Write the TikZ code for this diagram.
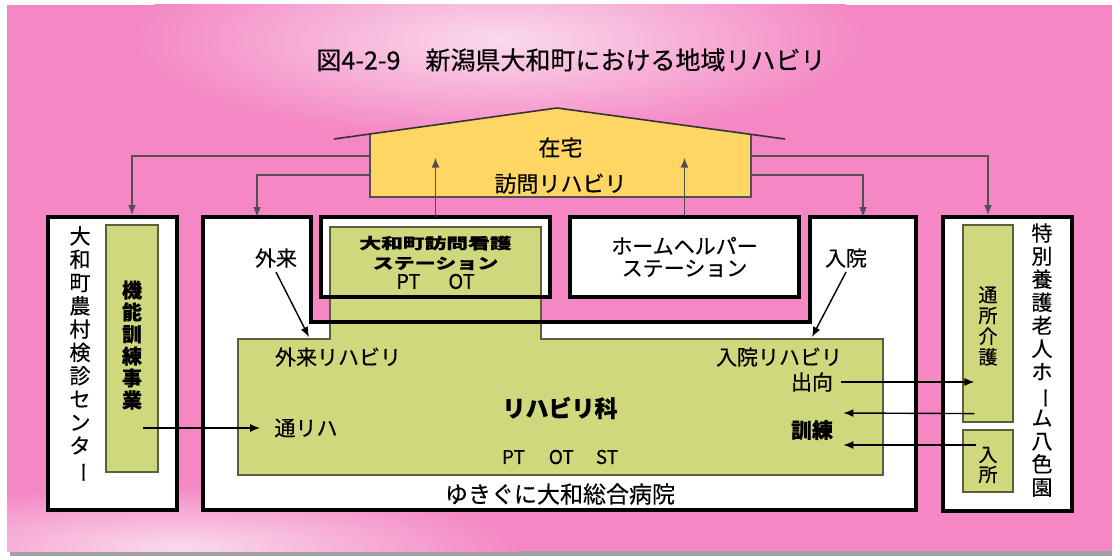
\documentclass[tikz,border=0pt]{standalone}
\usepackage{fontspec}
\setmainfont{Noto Sans CJK JP}[FakeBold=0.4]
\usepackage{graphicx}
\usetikzlibrary{positioning,arrows.meta,calc}

\definecolor{bgpink}{RGB}{244,135,196}
\definecolor{bglight}{RGB}{250,218,236}
\definecolor{rehagreen}{RGB}{208,216,126}
\definecolor{greenline}{RGB}{90,95,60}
\definecolor{houseyellow}{RGB}{255,214,100}
\definecolor{linkgray}{RGB}{80,80,80}
\definecolor{shadowgray}{RGB}{160,160,160}

\newcommand{\vbarjp}{\rotatebox[origin=c]{-90}{ー}}

\begin{document}
\begin{tikzpicture}[
  x=0.5pt, y=-0.5pt,
  thickbox/.style={
    rectangle, draw=black, line width=2pt, fill=white, inner sep=0
  },
  greenbox/.style={
    rectangle, draw=greenline, line width=0.6pt, fill=rehagreen, inner sep=0
  },
  link/.style={-{Latex[length=5pt,width=4pt]}, draw=linkgray, line width=0.85pt},
  flow/.style={-{Latex[length=5pt,width=4pt]}, draw=black, line width=0.7pt},
  txt/.style={inner sep=0, font=\fontsize{10.5}{12}\selectfont},
  vtxt/.style={inner sep=0, align=center}
]

% === Background ===
\useasboundingbox (0,0) rectangle (1112,556);
\fill[white] (0,0) rectangle (1112,556);
\fill[shadowgray] (10,549) rectangle (1112,556);
\begin{scope}
  \clip (7,5) rectangle (1112,551);
  \fill[bgpink] (7,5) rectangle (1112,551);
  \shade[inner color=bglight, outer color=bgpink] (500,40) ellipse (185pt and 50pt);
  \shade[inner color=bglight, outer color=bgpink] (180,548) ellipse (170pt and 32pt);
\end{scope}

% === Title ===
\node[inner sep=0, font=\fontsize{12.5}{14}\selectfont] (title) at (571,60)
  {図4-2-9　新潟県大和町における地域リハビリ};

% === House (home) ===
\fill[houseyellow] (370,197) -- (370,134) -- (557,108) -- (751,134) -- (751,197) -- cycle;
\draw[linkgray, line width=0.7pt] (370,134) -- (370,197) -- (751,197) -- (751,134);
\draw[black!80, line width=0.8pt] (334,139) -- (557,108) -- (785,139);
\node[inner sep=0, minimum width=190.5pt, minimum height=31.5pt, align=center,
  font=\fontsize{11}{18}\selectfont] (house) at (560.5,165.5) {在宅\\訪問リハビリ};

% === Health check centre ===
\node[thickbox, minimum width=64.5pt, minimum height=146.5pt] (kenshin) at (112.5,363.5) {};
\node[greenbox, minimum width=26pt, minimum height=123.5pt] (kinou) at (132,348.5) {};
\node[vtxt, font=\fontsize{10.5}{11.65}\selectfont] (kenshintxt) at (80,354.5)
  {大\\和\\町\\農\\村\\検\\診\\セ\\ン\\タ\\\vbarjp};
\node[vtxt, font=\bfseries\fontsize{10}{11}\selectfont] (kinoutxt) at (132,345)
  {機\\能\\訓\\練\\事\\業};

% === Hospital outline ===
\coordinate (hA) at (203,217);
\coordinate (hB) at (311,217);
\coordinate (hC) at (311,322);
\coordinate (hD) at (810,322);
\coordinate (hE) at (810,217);
\coordinate (hF) at (916,217);
\coordinate (hG) at (916,510);
\coordinate (hH) at (203,510);
\fill[white] (hA) -- (hB) -- (hC) -- (hD) -- (hE) -- (hF) -- (hG) -- (hH) -- cycle;
\node[rectangle, fill=white, inner sep=0, minimum width=114.5pt, minimum height=40pt]
  (nurse) at (435.5,257) {};

% === Rehabilitation department (green) ===
\filldraw[fill=rehagreen, draw=greenline, line width=0.6pt]
  (238,475) -- (238,339) -- (330,339) -- (330,227) -- (541,227)
  -- (541,339) -- (883,339) -- (883,475) -- cycle;
\draw[line width=2pt] (hA) -- (hB) -- (hC) -- (hD) -- (hE) -- (hF) -- (hG) -- (hH) -- cycle;
\draw[line width=2pt] (nurse.south west) rectangle (nurse.north east);
\node[vtxt, font=\fontsize{10}{10}\selectfont] (nursetxt) at (435.5,262.5)
  {\scalebox{1.45}[1]{\bfseries\fontsize{7.5}{9}\selectfont 大和町訪問看護}\\
   \scalebox{1.4}[1]{\bfseries\fontsize{7.5}{9}\selectfont ステーション}\\
   PT\hspace{14pt}OT};

% === Home helper station ===
\node[thickbox, minimum width=114.5pt, minimum height=40pt, align=center,
  font=\fontsize{10.5}{11}\selectfont] (helper) at (684.5,257) {ホームヘルパー\\ステーション};

% === Hospital labels ===
\node[txt] (gairai) at (276,258) {外来};
\node[txt] (nyuin) at (846,258) {入院};
\node[txt] (gairaireha) at (338,357) {外来リハビリ};
\node[txt] (nyuinreha) at (779,357) {入院リハビリ};
\node[txt] (shukko) at (812,382) {出向};
\node[txt, font=\bfseries\fontsize{10.5}{12}\selectfont] (kunren) at (812,430) {訓練};
\node[txt, font=\bfseries\fontsize{11.5}{13}\selectfont] (rehaka) at (560,408) {リハビリ科};
\node[txt, font=\fontsize{9.5}{11}\selectfont] (staff) at (560,457) {PT\hspace{12pt}OT\hspace{11pt}ST};
\node[txt] (tsuriha) at (306,428) {通リハ};
\node[txt, font=\fontsize{11.5}{13}\selectfont] (hospname) at (560,494) {ゆきぐに大和総合病院};

% === Nursing home ===
\node[thickbox, minimum width=64.5pt, minimum height=147pt] (hall) at (1007.5,364) {};
\node[greenbox, minimum width=25pt, minimum height=98.5pt] (tsusho) at (988,323.5) {};
\node[greenbox, minimum width=25pt, minimum height=31pt] (nyusho) at (988,461) {};
\node[vtxt, font=\fontsize{10.5}{11.55}\selectfont] (halltxt) at (1042,360)
  {特\\別\\養\\護\\老\\人\\ホ\\\vbarjp\\ム\\八\\色\\園};
\node[vtxt, font=\fontsize{9.5}{10.35}\selectfont] (tsushotxt) at (988,326) {通\\所\\介\\護};
\node[vtxt, font=\fontsize{9.5}{10}\selectfont] (nyushotxt) at (988,465) {入\\所};

% === Links from home ===
\draw[link] ([yshift=4.75pt]house.west) -| ([xshift=9.75pt]kenshin.north);
\draw[link] ([yshift=-4.75pt]house.west) -| ($(hA)!0.5!(hB)$);
\draw[link] ([yshift=4.75pt]house.east) -| ([xshift=-9.75pt]hall.north);
\draw[link] ([yshift=-4.75pt]house.east) -| ($(hE)!0.5!(hF)$);
\draw[link] (nurse.north) -- ($(nurse.north |- house.center)+(0,-8)$);
\draw[link] (helper.north) -- ($(helper.north |- house.center)+(0,-8)$);

% === Flows in and out of the hospital ===
\coordinate (gtip) at (309,337);
\coordinate (ntip) at (812,337);
\draw[flow] ([yshift=-2pt]gairai.south) -- (gtip);
\draw[flow] ([yshift=-2pt]nyuin.south) -- (ntip);
\draw[flow] ($(kinou.center)+(11,79.5)$) -- ([xshift=-7pt]tsuriha.west);
\draw[flow] ([xshift=4pt]shukko.east) -- ($(tsusho.west |- shukko.east)+(12,0)$);
\draw[flow] ($(tsusho.south west)+(12,-9)$) -- ($(kunren.east)+(10,-17)$);
\draw[flow] ($(nyusho.west)+(14,-16)$) -- ($(kunren.east)+(10,15)$);

\end{tikzpicture}
\end{document}
